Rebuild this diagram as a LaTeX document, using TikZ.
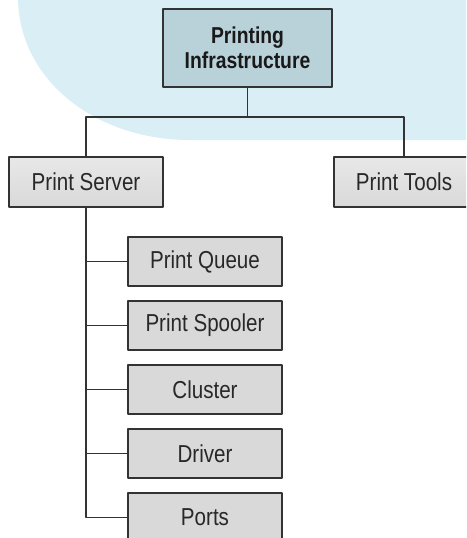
\documentclass[tikz,border=0pt]{standalone}
\usepackage{fontspec}
\setmainfont[FakeStretch=0.84]{Liberation Sans}
\usetikzlibrary{calc}
\definecolor{skyBlue}{RGB}{217,239,245}
\definecolor{headBlue}{RGB}{185,209,217}
\definecolor{boxGray}{RGB}{217,217,217}
\definecolor{lineGray}{RGB}{51,51,51}
\definecolor{textGray}{RGB}{40,40,40}

\begin{document}
\begin{tikzpicture}[x=1pt, y=-1pt, line join=round,
  headBox/.style={draw=lineGray, line width=1.6pt, fill=headBlue, minimum width=169pt, minimum height=78pt, inner sep=0pt, align=center, font=\fontsize{23}{25}\selectfont\bfseries, text=black!90},
  groupBox/.style={draw=lineGray, line width=1.6pt, top color=black!9, bottom color=black!15, minimum height=50pt, inner sep=0pt, font=\fontsize{24.5}{28}\selectfont, text=textGray},
  itemBox/.style={draw=lineGray, line width=1.6pt, fill=boxGray, minimum width=154pt, minimum height=49pt, inner sep=0pt, font=\fontsize{24.5}{28}\selectfont, text=textGray},
  wire/.style={draw=lineGray, line width=1.3pt}]
\clip (0,0) rectangle (466,538);
\coordinate (bus) at (247.5,117);
% background
\fill[skyBlue] (18,0) .. controls (20,80) and (95,140) .. (190,140) -- (466,140) -- (466,0) -- cycle;
% boxes
\node[headBox] (infra) at (247.5,48) {Printing\\Infrastructure};
\node[groupBox, minimum width=154pt] (server) at (86,182) {Print Server};
\node[groupBox, minimum width=140pt] (tools) at (404,182) {Print Tools};
\node[itemBox] (queue) at (205,261.5) {Print Queue};
\node[itemBox] (spooler) at (205,325.5) {Print Spooler};
\node[itemBox] (cluster) at (205,389.5) {Cluster};
\node[itemBox] (driver) at (205,453.5) {Driver};
\node[itemBox] (ports) at (205,517.5) {Ports};
% connectors
\draw[wire] (infra.south) -- (bus);
\draw[wire] (server.north) |- (bus) -| (tools.north);
\draw[wire] (server.south) |- (ports.west);
\foreach \n in {queue,spooler,cluster,driver}
  \draw[wire] (server.south |- \n.west) -- (\n.west);
\end{tikzpicture}
\end{document}
